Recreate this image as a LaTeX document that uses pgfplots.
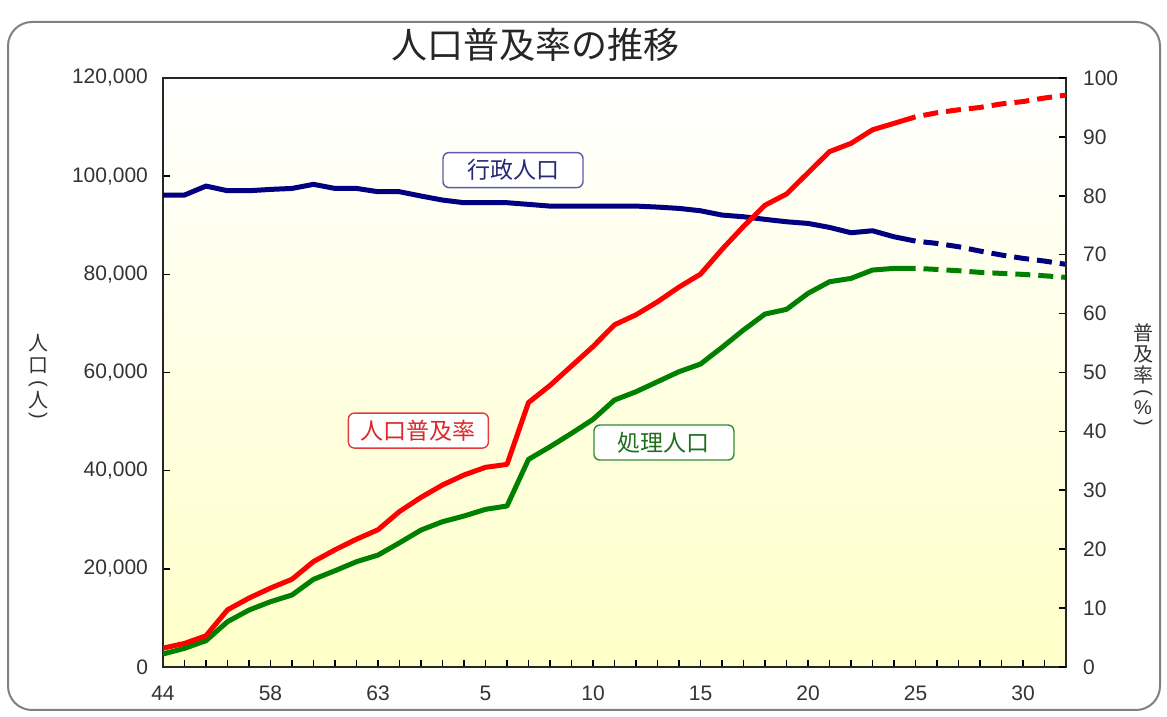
\documentclass[border=0pt]{standalone}
\usepackage{fontspec}
\setmainfont{Liberation Sans}
\newfontfamily\cjk{Noto Sans CJK JP}
\usepackage{pgfplots}
\usepackage{pgfplotstable}
\pgfplotsset{compat=1.18}

\definecolor{navy}{RGB}{0,0,128}
\definecolor{lred}{RGB}{255,0,0}
\definecolor{dgreen}{RGB}{0,128,0}
\definecolor{framegray}{RGB}{128,128,128}
\definecolor{ticktext}{RGB}{51,51,51}
\definecolor{bgyellow}{RGB}{255,255,200}

% x = position on the year axis (0 = S44 ... 42), populations in persons
\pgfplotstableread{
x gyosei shori
0 96150 2650
1 96150 3800
2 97980 5360
3 97030 9230
4 97030 11600
5 97300 13300
6 97500 14670
7 98330 17860
8 97500 19620
9 97500 21450
10 96830 22800
11 96830 25300
12 95950 27900
13 95130 29600
14 94590 30760
15 94590 32120
16 94590 32800
17 94250 42300
18 93900 44870
19 93900 47600
20 93900 50450
21 93900 54390
22 93900 56080
23 93700 58120
24 93430 60160
25 92950 61720
26 92070 65120
27 91730 68650
28 91200 71910
29 90710 72860
30 90370 76120
31 89560 78490
32 88470 79170
33 88880 80870
34 87650 81210
35 86770 81210
}\popmain

\pgfplotstableread{
x gyosei shori
35 86770 81210
36 86300 81000
37 85620 80730
38 84740 80400
39 83930 80190
40 83250 79990
41 82700 79700
42 82030 79380
}\popproj

\pgfplotstableread{
x rate
0 3.2
1 4.0
2 5.3
3 9.7
4 11.7
5 13.4
6 14.9
7 17.9
8 19.9
9 21.7
10 23.3
11 26.4
12 28.8
13 30.9
14 32.6
15 33.9
16 34.4
17 44.9
18 47.8
19 51.1
20 54.4
21 58.1
22 59.8
23 62.0
24 64.5
25 66.7
26 70.9
27 74.8
28 78.4
29 80.3
30 83.9
31 87.5
32 88.9
33 91.2
34 92.3
35 93.4
}\ratemain

\pgfplotstableread{
x rate
35 93.4
36 94.1
37 94.6
38 95.0
39 95.6
40 96.0
41 96.6
42 97.1
}\rateproj

\pgfplotsset{
  common/.style={
    at={(81.5pt,25pt)}, anchor=south west,
    scale only axis, width=451.5pt, height=294.5pt,
    xmin=0, xmax=42,
    tick align=inside,
    major tick length=3.5pt, minor tick length=3.5pt,
    every tick/.style={black, line width=0.8pt},
    axis line style={black!85, line width=1pt},
    /pgf/number format/assume math mode=true,
    tick label style={font=\fontsize{10.5}{12}\selectfont, text=ticktext},
  },
  solidline/.style={line width=2.5pt, line join=round},
  dashline/.style={line width=2.5pt, line join=round, dash pattern=on 7.5pt off 4pt, dash phase=7.5pt},
}
\tikzset{
  tag/.style={draw, rounded corners=3pt, fill=white, line width=0.7pt,
    minimum width=70pt, minimum height=17.5pt, inner sep=0pt,
    font=\cjk\fontsize{11.5}{13}\selectfont},
  vch/.style={font=\cjk\fontsize{10}{10}\selectfont, text=ticktext, inner sep=0pt},
  vpar/.style={font=\fontsize{10}{10}\selectfont, text=ticktext, inner sep=0pt, rotate=-90},
}

\begin{document}
\begin{tikzpicture}[x=0.5pt,y=0.5pt]
\path[use as bounding box] (0,0) rectangle (1167,717);
\draw[framegray, line width=1pt, rounded corners=12pt] (8,7) rectangle (1160,695);
\node[font=\cjk\fontsize{18}{20}\selectfont, text=black!85] at (535,672) {人口普及率の推移};

\begin{axis}[common,
    ymin=0, ymax=120000,
    xtick={0,5,...,40},
    xticklabels={44,58,63,5,10,15,20,25,30},
    minor xtick={0,...,41},
    xtick pos=bottom,
    ytick={0,20000,...,120000},
    ytick pos=left,
    scaled y ticks=false,
    yticklabel style={/pgf/number format/fixed, /pgf/number format/1000 sep={,}, xshift=-4pt},
    xticklabel style={yshift=-6pt},
    axis background/.style={top color=white, bottom color=bgyellow},
  ]
  \addplot[navy, solidline] table[x=x, y=gyosei] {\popmain};
  \addplot[dgreen, solidline] table[x=x, y=shori] {\popmain};
  \addplot[navy, dashline] table[x=x, y=gyosei] {\popproj};
  \addplot[dgreen, dashline] table[x=x, y=shori] {\popproj};
  \node[tag, draw={rgb,255:red,90;green,90;blue,170}, text={rgb,255:red,40;green,40;blue,120}] at (axis cs:16.28,101240) {行政人口};
  \node[tag, draw={rgb,255:red,225;green,60;blue,60}, text={rgb,255:red,220;green,40;blue,40}] at (axis cs:11.88,48170) {人口普及率};
  \node[tag, draw={rgb,255:red,50;green,140;blue,50}, text={rgb,255:red,30;green,110;blue,30}] at (axis cs:23.3,45730) {処理人口};
\end{axis}

\begin{axis}[common,
    ymin=0, ymax=100,
    axis x line=none,
    axis y line*=right,
    ytick={0,10,...,100},
    ytick pos=right,
    yticklabel style={xshift=5pt},
  ]
  \addplot[lred, solidline] table[x=x, y=rate] {\ratemain};
  \addplot[lred, dashline] table[x=x, y=rate] {\rateproj};
\end{axis}

% vertical axis titles, one character at a time
\node[vch] at (38,374) {人};
\node[vch] at (38,351) {口};
\node[vpar] at (38,333) {(};
\node[vch] at (38,317) {人};
\node[vpar] at (38,301) {)};
\node[vch] at (1143,384) {普};
\node[vch] at (1143,363) {及};
\node[vch] at (1143,342) {率};
\node[vpar] at (1143,324) {(};
\node[vch, font=\fontsize{10}{10}\selectfont] at (1143,309) {\%};
\node[vpar] at (1143,294) {)};
\end{tikzpicture}
\end{document}
